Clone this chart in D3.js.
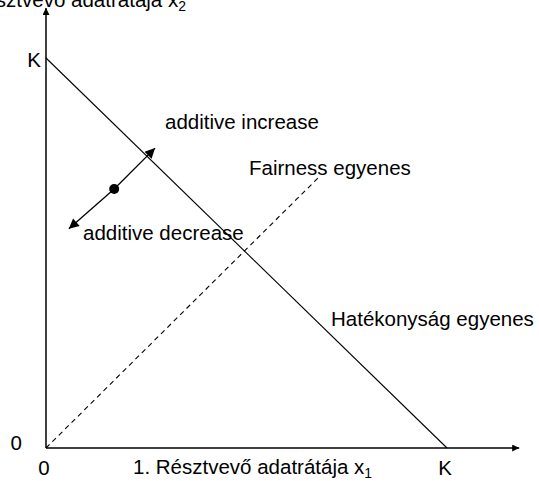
<!DOCTYPE html>
<html><head><meta charset="utf-8">
<script src="https://cdn.jsdelivr.net/npm/d3@7"></script>
<style>
html,body{margin:0;padding:0;background:#fff;}
svg{display:block;}
text{font-family:"Liberation Sans",Arial,sans-serif;fill:#000;}
</style></head>
<body>
<script>
// Data (in units of capacity K = 1)
const axisExtent = {x: 1.18, y: 1.128};
const efficiencyLine = [[0, 1], [1, 0]];
const fairnessLine = [[0, 0], [0.678, 0.692]];
const operatingPoint = [0.17, 0.664];
const increaseTip = [0.272, 0.769];
const decreaseTip = [0.057, 0.562];
const xTickLabels = [{v: 0, t: "0"}, {v: 1, t: "K"}];
const yTickLabels = [{v: 0, t: "0"}, {v: 1, t: "K"}];

const W = 539, H = 481;
const svg = d3.select("body").append("svg").attr("width", W).attr("height", H);
const x = d3.scaleLinear().domain([0, 1]).range([46, 447]);
const y = d3.scaleLinear().domain([0, 1]).range([448, 58]);

const defs = svg.append("defs");
defs.append("marker").attr("id", "axisArrow").attr("viewBox", "0 0 10 10")
  .attr("refX", 10).attr("refY", 5).attr("markerWidth", 9).attr("markerHeight", 7)
  .attr("markerUnits", "userSpaceOnUse").attr("orient", "auto")
  .append("path").attr("d", "M0,0L10,5L0,10Z").attr("fill", "#000");
defs.append("marker").attr("id", "bigArrow").attr("viewBox", "0 0 10 10")
  .attr("refX", 10).attr("refY", 5).attr("markerWidth", 12).attr("markerHeight", 10)
  .attr("markerUnits", "userSpaceOnUse").attr("orient", "auto")
  .append("path").attr("d", "M0,0L10,5L0,10Z").attr("fill", "#000");

// axes
svg.append("line").attr("x1", x(0)).attr("y1", y(0)).attr("x2", x(axisExtent.x)).attr("y2", y(0))
  .attr("stroke", "#000").attr("stroke-width", 1.5).attr("marker-end", "url(#axisArrow)");
svg.append("line").attr("x1", x(0)).attr("y1", y(0)).attr("x2", x(0)).attr("y2", y(axisExtent.y))
  .attr("stroke", "#000").attr("stroke-width", 1.5).attr("marker-end", "url(#axisArrow)");

const line = d3.line().x(d => x(d[0])).y(d => y(d[1]));
svg.append("path").attr("d", line(efficiencyLine)).attr("fill", "none")
  .attr("stroke", "#000").attr("stroke-width", 1.1);
svg.append("path").attr("d", line(fairnessLine)).attr("fill", "none")
  .attr("stroke", "#000").attr("stroke-width", 1.1).attr("stroke-dasharray", "5,4");

// arrows from operating point
[increaseTip, decreaseTip].forEach(t => {
  svg.append("line").attr("x1", x(operatingPoint[0])).attr("y1", y(operatingPoint[1]))
    .attr("x2", x(t[0])).attr("y2", y(t[1]))
    .attr("stroke", "#000").attr("stroke-width", 1.3).attr("marker-end", "url(#bigArrow)");
});
svg.append("circle").attr("cx", x(operatingPoint[0])).attr("cy", y(operatingPoint[1]))
  .attr("r", 5).attr("fill", "#000");

const fs = 20.5;
// tick labels
xTickLabels.forEach(d => {
  svg.append("text").attr("x", x(d.v) - 2).attr("y", 475).attr("text-anchor", "middle")
    .attr("font-size", fs).text(d.t);
});
yTickLabels.forEach(d => {
  svg.append("text").attr("x", d.v === 0 ? 22 : 41).attr("y", y(d.v) + (d.v === 0 ? 2 : 9))
    .attr("text-anchor", "end").attr("font-size", fs).text(d.t);
});

function label(tx, ty, anchor, main, sub) {
  const t = svg.append("text").attr("x", tx).attr("y", ty).attr("text-anchor", anchor)
    .attr("font-size", fs);
  t.append("tspan").text(main);
  if (sub) t.append("tspan").attr("dy", 4).attr("font-size", 14).text(sub);
  return t;
}
label(133, 474, "start", "1. Résztvevő adatrátája x", "1");
label(186, 7, "end", "2. Résztvevő adatrátája x", "2");
label(165, 129, "start", "additive increase");
label(83, 240, "start", "additive decrease");
label(249, 175, "start", "Fairness egyenes");
label(331, 326, "start", "Hatékonyság egyenes");
</script>
</body></html>
